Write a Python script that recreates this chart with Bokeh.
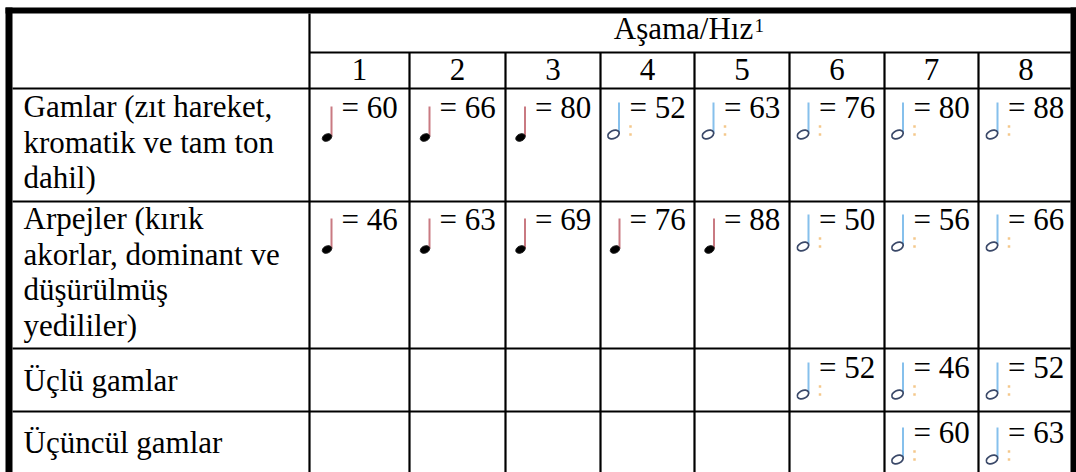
from bokeh.plotting import figure
from bokeh.models import Range1d
from bokeh.core.properties import value
from bokeh.embed import file_html
from bokeh.resources import INLINE

# ---------------- data ----------------
header_title = "Aşama/Hız"
header_footnote = "1"
stages = ["1", "2", "3", "4", "5", "6", "7", "8"]
row_labels = [
    ["Gamlar (zıt hareket,", "kromatik ve tam ton", "dahil)"],
    ["Arpejler (kırık", "akorlar, dominant ve", "düşürülmüş", "yedililer)"],
    ["Üçlü gamlar"],
    ["Üçüncül gamlar"],
]
# tempo (metronome mark) per stage; None = empty cell
tempo_scales = [60, 66, 80, 52, 63, 76, 80, 88]
tempo_arpeggios = [46, 63, 69, 76, 88, 50, 56, 66]
tempo_triplets = [None, None, None, None, None, 52, 46, 52]
tempo_tertiary = [None, None, None, None, None, None, 60, 63]
# note value of the metronome mark: "q" = quarter (crotchet), "h" = half (minim)
note_scales = ["q", "q", "q", "h", "h", "h", "h", "h"]
note_arpeggios = ["q", "q", "q", "q", "q", "h", "h", "h"]
note_triplets = [None, None, None, None, None, "h", "h", "h"]
note_tertiary = [None, None, None, None, None, None, "h", "h"]

tempi = [tempo_scales, tempo_arpeggios, tempo_triplets, tempo_tertiary]
notes = [note_scales, note_arpeggios, note_triplets, note_tertiary]

# ---------------- layout ----------------
W, H = 1076, 472
FONT = value("Liberation Serif")
FS = value("31px")
DY = 11          # correction: renderer places alphabetic baseline lower
DY_SUP = 7
col_edges = [309, 409, 505, 600, 694, 789, 884, 978, 1073]
row_tops = [88, 201, 348, 411]
label_offsets = [29, 28, 43, 42]
tempo_offsets = [30, 29, 30, 32]
LINE_GAP = 35.7
LABEL_X = 23

p = figure(width=W, height=H, output_backend="svg", toolbar_location=None,
           x_range=Range1d(0, W), y_range=Range1d(H, 0),
           min_border=0, background_fill_color="white", border_fill_color="white")
p.xaxis.visible = False
p.yaxis.visible = False
p.grid.visible = False
p.outline_line_color = None

# thick outer frame
p.quad(left=[5, 5, 1070], right=[12, 1076, 1076], top=[7, 7, 7], bottom=[472, 13, 472],
       fill_color="black", line_color=None)

# thin inner rules
hx0, hx1, hy = [col_edges[0]], [1070], [52]
for y in row_tops:
    hx0.append(12); hx1.append(1070); hy.append(y)
p.segment(x0=hx0, x1=hx1, y0=hy, y1=hy, line_color="black", line_width=2.2)
vx = col_edges[:-1]
vy0 = [13] + [52] * (len(vx) - 1)
p.segment(x0=vx, x1=vx, y0=vy0, y1=[472] * len(vx), line_color="black", line_width=2.2)

centers = [(col_edges[i] + col_edges[i + 1]) / 2 for i in range(len(stages))]
span_center = (col_edges[0] + col_edges[-1]) / 2

# header texts
p.text(x=[span_center - 8], y=[39 - DY], text=[header_title], text_font=FONT, text_font_size=FS,
       text_align="center", text_baseline="alphabetic", text_color="black")
p.text(x=[span_center + 63], y=[32 - DY_SUP], text=[header_footnote], text_font=FONT,
       text_font_size=value("19px"), text_align="left", text_baseline="alphabetic", text_color="black")
p.text(x=centers, y=[80 - DY] * len(stages), text=stages, text_font=FONT, text_font_size=FS,
       text_align="center", text_baseline="alphabetic", text_color="black")

# row labels
lx, ly, lt = [], [], []
for i, lines in enumerate(row_labels):
    for j, line in enumerate(lines):
        lx.append(LABEL_X)
        ly.append(row_tops[i] + label_offsets[i] + j * LINE_GAP - DY)
        lt.append(line)
p.text(x=lx, y=ly, text=lt, text_font=FONT, text_font_size=FS,
       text_align="left", text_baseline="alphabetic", text_color="black")

# tempo cells
tx, ty, tt = [], [], []
q = dict(hx=[], hy=[], sx=[], sy0=[], sy1=[])
h = dict(hx=[], hy=[], sx=[], sy0=[], sy1=[], dx=[], dy=[])
for i in range(len(row_labels)):
    for k, cx in enumerate(centers):
        t = tempi[i][k]
        if t is None:
            continue
        b = row_tops[i] + tempo_offsets[i]
        tx.append(cx - 18); ty.append(b - DY); tt.append("= %d" % t)
        if notes[i][k] == "q":
            q["hx"].append(cx - 32.5); q["hy"].append(b + 19)
            q["sx"].append(cx - 28); q["sy0"].append(b - 12); q["sy1"].append(b + 18)
        else:
            h["hx"].append(cx - 34); h["hy"].append(b + 16)
            h["sx"].append(cx - 28.5); h["sy0"].append(b - 16); h["sy1"].append(b + 15)
            h["dx"] += [cx - 17, cx - 17]; h["dy"] += [b + 8, b + 16]

p.text(x=tx, y=ty, text=tt, text_font=FONT, text_font_size=FS,
       text_align="left", text_baseline="alphabetic", text_color="black")

# quarter notes
p.segment(x0=q["sx"], x1=q["sx"], y0=q["sy0"], y1=q["sy1"], line_color="#c97a82", line_width=2)
p.ellipse(x=q["hx"], y=q["hy"], width=10, height=7, angle=0.45,
          fill_color="black", line_color="#202020", line_width=1)
# half notes
p.segment(x0=h["sx"], x1=h["sx"], y0=h["sy0"], y1=h["sy1"], line_color="#86c0ec", line_width=2)
p.ellipse(x=h["hx"], y=h["hy"], width=12, height=8, angle=0.45,
          fill_color="white", line_color="#3a4868", line_width=1.7)
p.scatter(x=h["dx"], y=h["dy"], size=2.5, marker="square", fill_color="#f4c88c", line_color=None)

open("out.html", "w").write(file_html(p, INLINE))
